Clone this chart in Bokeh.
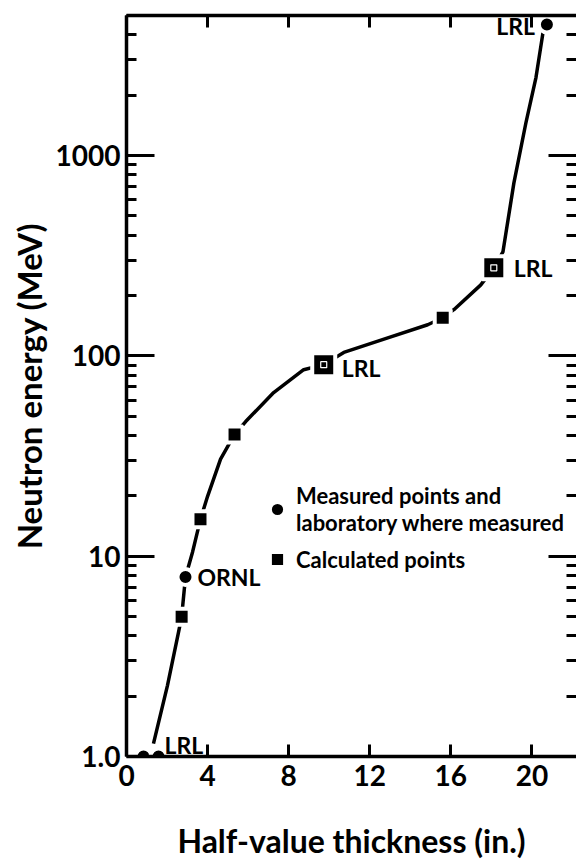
from bokeh.plotting import figure
from bokeh.models import (LinearAxis, LogAxis, FixedTicker, CustomJSTickFormatter,
                          Range1d, Legend, LegendItem, Label)
from bokeh.embed import file_html
from bokeh.resources import INLINE

# ---------------- data ----------------
# smooth hand-drawn curve through the points
curve_x = [1.33, 2.02, 2.57, 2.72, 2.91, 3.26, 3.65, 4.0, 4.64, 5.33, 5.88,
           7.26, 8.74, 9.73, 10.72, 12.89, 14.86, 15.6, 16.15, 17.48, 18.12,
           18.57, 19.11, 19.7, 20.2, 20.54, 20.74]
curve_e = [1.16, 2.26, 4.19, 4.98, 7.87, 10.5, 15.3, 19.9, 30.5, 40.5, 47,
           65.6, 85.3, 90.4, 104, 123, 143, 155, 170, 226, 275,
           330, 728, 1449, 2451, 4064, 4510]

# measured points (circles)
meas_x = [0.84, 1.58, 2.91, 20.74]
meas_e = [1.0, 1.0, 7.87, 4510]
# calculated points (squares)
calc_x = [2.72, 3.65, 5.33, 15.6]
calc_e = [4.98, 15.3, 40.5, 155]
# LRL measured points drawn as boxed squares
box_x = [9.73, 18.12]
box_e = [90.4, 275]

# laboratory annotations
ann_text = ["LRL", "ORNL", "LRL", "LRL", "LRL"]
ann_x = [1.58, 2.91, 9.73, 18.12, 20.74]
ann_e = [1.0, 7.87, 90.4, 275, 4510]

x_ticks = [0, 4, 8, 12, 16, 20]
y_ticks = [1, 10, 100, 1000]
y_tick_labels = ["1.0", "10", "100", "1000"]
y_minor = [m * 10 ** d for d in range(0, 4) for m in range(2, 10)]

FONT = "Lato"

p = figure(width=576, height=862, output_backend="svg", toolbar_location=None,
           y_axis_type="log", x_range=Range1d(0, 22.2), y_range=Range1d(1, 5000),
           min_border_left=126, min_border_right=0, min_border_top=15,
           min_border_bottom=104, outline_line_color=None)
p.grid.visible = False
p.background_fill_color = "white"
p.border_fill_color = "white"

yfmt = CustomJSTickFormatter(args=dict(vals=y_ticks, labs=y_tick_labels), code="""
for (let i = 0; i < vals.length; i++) {
  if (Math.abs(Math.log10(tick) - Math.log10(vals[i])) < 1e-6) return labs[i];
}
return '';
""")

def style_y(ax):
    ax.ticker = FixedTicker(ticks=y_ticks, minor_ticks=y_minor)
    ax.major_tick_in = 28
    ax.major_tick_out = 0
    ax.minor_tick_in = 10
    ax.minor_tick_out = 0
    ax.major_tick_line_width = 3
    ax.minor_tick_line_width = 3
    ax.major_tick_line_color = "black"
    ax.minor_tick_line_color = "black"

def style_x(ax):
    ax.ticker = FixedTicker(ticks=x_ticks)
    ax.major_tick_in = 12
    ax.major_tick_out = 0
    ax.minor_tick_line_color = None
    ax.major_tick_line_width = 3
    ax.major_tick_line_color = "black"

def hide_labels(ax):
    ax.major_label_text_font_size = "1px"
    ax.major_label_text_color = None
    ax.major_label_standoff = 0

# left axis
yl = p.yaxis[0]
style_y(yl)
yl.formatter = yfmt
yl.axis_line_width = 3.5
yl.axis_line_color = "black"
yl.major_label_standoff = 6
yl.major_label_text_font = FONT
yl.major_label_text_font_size = "28px"
yl.major_label_text_font_style = "bold"
yl.major_label_text_color = "black"
yl.axis_label = "Neutron energy (MeV)"
yl.axis_label_text_font = FONT
yl.axis_label_text_font_size = "33px"
yl.axis_label_text_font_style = "bold"
yl.axis_label_text_color = "black"
yl.axis_label_standoff = 4

# right axis (ticks only, its border is cut off at the page edge)
yr = LogAxis()
style_y(yr)
yr.axis_line_color = None
hide_labels(yr)
p.add_layout(yr, "right")

# bottom axis
xb = p.xaxis[0]
style_x(xb)
xb.axis_line_width = 3.5
xb.axis_line_color = "black"
xb.major_label_standoff = 8
xb.major_label_text_font = FONT
xb.major_label_text_font_size = "28px"
xb.major_label_text_font_style = "bold"
xb.major_label_text_color = "black"
xb.axis_label = "Half-value thickness (in.)"
xb.axis_label_text_font = FONT
xb.axis_label_text_font_size = "32px"
xb.axis_label_text_font_style = "bold"
xb.axis_label_text_color = "black"
xb.axis_label_standoff = 32

# top axis
xt = LinearAxis()
style_x(xt)
xt.axis_line_width = 3.5
xt.axis_line_color = "black"
hide_labels(xt)
p.add_layout(xt, "above")

# curve
p.line(curve_x, curve_e, line_color="black", line_width=3.5, line_join="round")

# markers with a white halo that breaks the curve
r_meas = p.scatter(meas_x, meas_e, marker="circle", size=16, fill_color="black",
                   line_color="white", line_width=4)
r_calc = p.scatter(calc_x, calc_e, marker="square", size=16, fill_color="black",
                   line_color="white", line_width=4)
p.scatter(box_x, box_e, marker="square", size=23, fill_color="black",
          line_color="white", line_width=4)
p.scatter(box_x, box_e, marker="square", size=6, fill_color=None,
          line_color="white", line_width=1.2)

# annotations
offsets = [(6, 12), (12, 0), (18, -3), (20, 0), (-12, -2)]
for t, x, e, (dx, dy) in zip(ann_text, ann_x, ann_e, offsets):
    p.add_layout(Label(x=x, y=e, text=t, x_offset=dx, y_offset=dy,
                       text_align="left" if dx > 0 else "right",
                       text_baseline="middle", text_font=FONT,
                       text_font_size="23px", text_font_style="bold",
                       text_color="black"))

legend = Legend(items=[
    LegendItem(label="Measured points and\nlaboratory where measured", renderers=[r_meas]),
    LegendItem(label="Calculated points", renderers=[r_calc]),
], location=(132, 178), orientation="vertical", padding=0, margin=0,
    spacing=4, glyph_width=38, glyph_height=38, label_standoff=0,
    border_line_color=None, background_fill_alpha=0,
    label_text_font=FONT, label_text_font_size="22px",
    label_text_font_style="bold", label_text_color="black",
    label_height=25)
p.add_layout(legend, "center")

open("out.html", "w").write(file_html(p, INLINE))
